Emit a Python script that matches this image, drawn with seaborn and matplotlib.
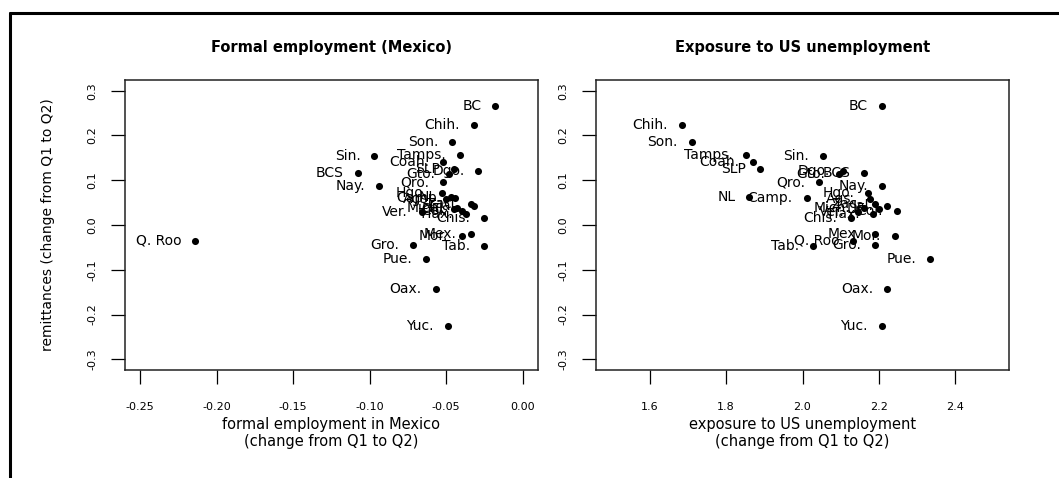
import matplotlib
matplotlib.use("Agg")
import matplotlib.pyplot as plt
import pandas as pd
import seaborn as sns
from matplotlib.lines import Line2D

# Mexican states: change in remittances vs. formal employment and US exposure
states = ["BC", "Chih.", "Son.", "Tamps.", "Sin.", "Coah.", "SLP", "Dgo.",
          "Gto.", "BCS", "Qro.", "Nay.", "Hgo.", "Ags.", "Camp.", "NL",
          "Zac.", "Jal.", "Mich.", "DF", "Col.", "Tlax.", "Ver.", "Chis.",
          "Mex.", "Mor.", "Q. Roo", "Gro.", "Tab.", "Pue.", "Oax.", "Yuc."]

formal_employment = [-0.018, -0.032, -0.046, -0.041, -0.097, -0.052, -0.045, -0.029,
                     -0.048, -0.108, -0.052, -0.094, -0.053, -0.050, -0.044, -0.047,
                     -0.034, -0.032, -0.043, -0.045, -0.040, -0.037, -0.066, -0.025,
                     -0.034, -0.040, -0.214, -0.072, -0.025, -0.063, -0.057, -0.049]

us_exposure = [2.208, 1.685, 1.710, 1.853, 2.053, 1.870, 1.888, 2.107,
               2.096, 2.161, 2.043, 2.207, 2.172, 2.176, 2.011, 1.861,
               2.190, 2.221, 2.160, 2.200, 2.246, 2.185, 2.146, 2.126,
               2.189, 2.241, 2.133, 2.189, 2.028, 2.333, 2.221, 2.207]

remittances = [0.267, 0.223, 0.186, 0.156, 0.155, 0.141, 0.126, 0.121,
               0.115, 0.117, 0.096, 0.088, 0.072, 0.059, 0.061, 0.063,
               0.047, 0.042, 0.038, 0.035, 0.031, 0.024, 0.028, 0.016,
               -0.019, -0.025, -0.035, -0.045, -0.047, -0.077, -0.144, -0.226]

y_ticks = [-0.3, -0.2, -0.1, 0.0, 0.1, 0.2, 0.3]
left_ticks = [-0.25, -0.20, -0.15, -0.10, -0.05, 0.00]
right_ticks = [1.6, 1.8, 2.0, 2.2, 2.4]

df = pd.DataFrame({"state": states, "formal": formal_employment,
                   "exposure": us_exposure, "remit": remittances})

sns.set_theme(style="white")
plt.rcParams["font.family"] = ["DejaVu Sans"]

W, H = 1059, 478
fig = plt.figure(figsize=(W / 100, H / 100), dpi=100)
fig.patch.set_facecolor("white")

box_bottom, box_top = 370, 80
ax1 = fig.add_axes([125 / W, 1 - box_bottom / H, 413 / W, (box_bottom - box_top) / H])
ax2 = fig.add_axes([596 / W, 1 - box_bottom / H, 413 / W, (box_bottom - box_top) / H])

panels = [
    (ax1, "formal", (-0.26, 0.01), left_ticks,
     ["-0.25", "-0.20", "-0.15", "-0.10", "-0.05", "0.00"],
     "Formal employment (Mexico)",
     "formal employment in Mexico\n(change from Q1 to Q2)"),
    (ax2, "exposure", (1.46, 2.54), right_ticks,
     ["1.6", "1.8", "2.0", "2.2", "2.4"],
     "Exposure to US unemployment",
     "exposure to US unemployment\n(change from Q1 to Q2)"),
]

for ax, xcol, xlim, xt, xtl, title, xlabel in panels:
    sns.scatterplot(data=df, x=xcol, y="remit", ax=ax, color="black",
                    s=26, linewidth=0, legend=False, zorder=3)
    for name, xv, yv in zip(df["state"], df[xcol], df["remit"]):
        ax.annotate(name, (xv, yv), xytext=(-10, 0), textcoords="offset points",
                    ha="right", va="center", fontsize=10, color="black", zorder=4)

    ax.set_xlim(*xlim)
    ax.set_ylim(-0.324, 0.324)
    ax.set_xticks(xt)
    ax.set_xticklabels(xtl)
    ax.set_yticks(y_ticks)
    ax.set_yticklabels([f"{v:.1f}" for v in y_ticks])
    ax.tick_params(axis="both", which="major", direction="out", length=10,
                   width=0.9, color="black", labelsize=8, labelcolor="black",
                   bottom=True, left=True, top=False, right=False)
    ax.tick_params(axis="x", pad=13)
    ax.tick_params(axis="y", pad=10, labelrotation=90)
    for lab in ax.get_yticklabels():
        lab.set_va("center")
    for sp in ax.spines.values():
        sp.set_visible(True)
        sp.set_color("#222222")
        sp.set_linewidth(1.1)
    ax.set_facecolor("white")
    ax.grid(False)

    ax.text(0.5, (box_bottom - 47) / (box_bottom - box_top), title,
            transform=ax.transAxes, ha="center", va="center",
            fontsize=10.5, fontweight="bold", color="black")
    ax.set_xlabel(xlabel, fontsize=10.5, color="black", linespacing=1.15)
    ax.xaxis.set_label_coords(0.5, (box_bottom - 417) / (box_bottom - box_top))
    ax.set_ylabel("")

ax1.set_ylabel("remittances (change from Q1 to Q2)", fontsize=10, color="black")
ax1.yaxis.set_label_coords((55 - 125) / 413, 0.5)

# outer frame of the figure panel
fig.add_artist(Line2D([10 / W, 10 / W], [0, 1 - 12.5 / H], transform=fig.transFigure,
                      color="black", linewidth=2.2))
fig.add_artist(Line2D([10 / W, 1.0], [1 - 12.5 / H, 1 - 12.5 / H], transform=fig.transFigure,
                      color="black", linewidth=2.2))

fig.savefig("out.png", dpi=100, facecolor="white")
